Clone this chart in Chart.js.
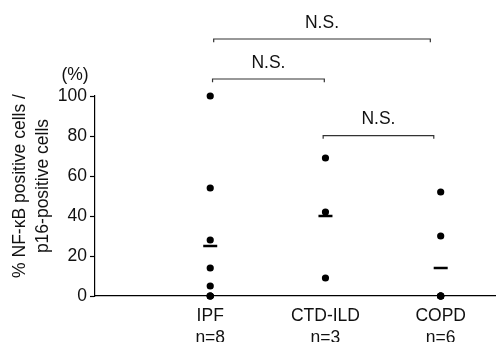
<!DOCTYPE html>
<html>
<head>
<meta charset="utf-8">
<script src="https://cdn.jsdelivr.net/npm/chart.js@4"></script>
<style>
  html, body { margin: 0; padding: 0; background: #fff; }
  #wrap { width: 496px; height: 342px; }
</style>
</head>
<body>
<div id="wrap"><canvas id="chart" width="496" height="342"></canvas></div>
<script>
const CATEGORIES = ['IPF', 'CTD-ILD', 'COPD'];
const COUNTS = [8, 3, 6];
const IPF_VALUES = [100, 54, 28, 14, 5, 0, 0, 0];
const CTD_VALUES = [69, 42, 9];
const COPD_VALUES = [52, 30, 0, 0, 0, 0];
const MEANS = [25, 40, 14];
const Y_TICKS = [0, 20, 40, 60, 80, 100];
const Y_TITLE = ['% NF-\u03baB positive cells /', 'p16-positive cells'];
// comparisons: bracket span along the category axis and its level in % units
const BRACKETS = [
  { from: 1.03, to: 2.91, level: 128.5 },
  { from: 1.02, to: 1.99, level: 108.5 },
  { from: 1.98, to: 2.94, level: 80.2 },
];
const BRACKET_LABEL = 'N.S.';

const FONT = "'Liberation Sans', Arial, sans-serif";
const FSIZE = 17.5;
const INK = '#111';

const groups = [IPF_VALUES, CTD_VALUES, COPD_VALUES];
const points = [];
groups.forEach((vals, i) => vals.forEach(v => points.push({ x: i + 1, y: v })));
const meanPts = MEANS.map((m, i) => ({ x: i + 1, y: m }));

const datasets = [
  {
    label: 'values',
    data: points,
    pointRadius: 3.6,
    pointBackgroundColor: '#000',
    pointBorderWidth: 0,
    showLine: false,
    clip: false,
  },
  {
    label: 'mean',
    data: meanPts,
    pointStyle: 'line',
    pointRadius: 7,
    borderColor: '#000',
    pointBorderColor: '#000',
    pointBorderWidth: 2.5,
    showLine: false,
    clip: false,
  },
];

BRACKETS.forEach(b => {
  datasets.push({
    label: 'bracket',
    data: [
      { x: b.from, y: b.level - 1.6 },
      { x: b.from, y: b.level },
      { x: b.to, y: b.level },
      { x: b.to, y: b.level - 1.6 },
    ],
    showLine: true,
    borderColor: '#333',
    borderWidth: 1.2,
    pointRadius: 0,
    clip: false,
  });
});

const annotate = {
  id: 'annotate',
  afterDraw(c) {
    const ctx = c.ctx;
    const xs = c.scales.x, ys = c.scales.y;
    const area = c.chartArea;
    ctx.save();
    ctx.fillStyle = INK;
    ctx.font = FSIZE + 'px ' + FONT;
    ctx.textAlign = 'center';
    ctx.textBaseline = 'middle';
    BRACKETS.forEach(b => {
      const cx = xs.getPixelForValue((b.from + b.to) / 2);
      const cy = ys.getPixelForValue(b.level) - 16;
      ctx.fillText(BRACKET_LABEL, cx, cy);
    });
    ctx.fillText('(%)', area.left - 20, area.top - 21);

    // rotated y-axis title
    const midY = (area.top + area.bottom) / 2 - 10;
    ctx.translate(20, midY);
    ctx.rotate(-Math.PI / 2);
    ctx.fillText(Y_TITLE[0], 0, 0);
    ctx.fillText(Y_TITLE[1], 0, 23);
    ctx.restore();
  }
};

new Chart(document.getElementById('chart'), {
  type: 'scatter',
  data: { datasets },
  options: {
    responsive: false,
    animation: false,
    layout: { autoPadding: false, padding: { top: 96, right: 0, left: 0, bottom: 0 } },
    plugins: { legend: { display: false }, tooltip: { enabled: false } },
    scales: {
      x: {
        type: 'linear',
        min: 0,
        max: 3.48,
        afterBuildTicks: s => { s.ticks = [1, 2, 3].map(v => ({ value: v })); },
        afterFit: s => { s.height = 46; s.paddingLeft = 0; s.paddingRight = 0; },
        grid: { display: false, drawTicks: false, tickLength: 0 },
        border: { display: true, color: '#000', width: 1.2 },
        ticks: {
          color: INK,
          padding: 9,
          maxRotation: 0,
          font: { family: FONT, size: FSIZE, lineHeight: 1.25 },
          callback: v => [CATEGORIES[v - 1], 'n=' + COUNTS[v - 1]],
        },
      },
      y: {
        min: 0,
        max: 100,
        afterBuildTicks: s => { s.ticks = Y_TICKS.map(v => ({ value: v })); },
        afterFit: s => { s.width = 95; },
        grid: { drawOnChartArea: false, color: '#000', tickLength: 5, tickWidth: 1.2 },
        border: { display: true, color: '#000', width: 1.2 },
        ticks: { color: INK, padding: 3, font: { family: FONT, size: FSIZE } },
      },
    },
  },
  plugins: [annotate],
});
</script>
</body>
</html>
